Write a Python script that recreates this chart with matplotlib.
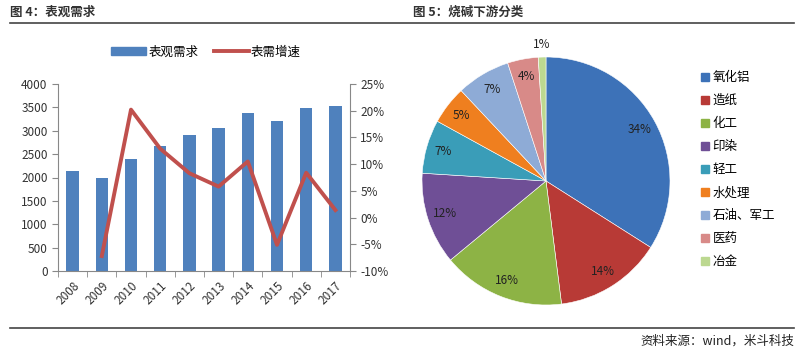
import matplotlib
matplotlib.use("Agg")
import matplotlib.pyplot as plt
from matplotlib.patches import Patch
from matplotlib.lines import Line2D
from matplotlib.ticker import PercentFormatter
import numpy as np

plt.rcParams['font.family'] = ['Noto Sans CJK SC', 'DejaVu Sans']
plt.rcParams['axes.unicode_minus'] = False

# left chart data
years = ['2008', '2009', '2010', '2011', '2012', '2013', '2014', '2015', '2016', '2017']
demand = [2140, 1980, 2390, 2680, 2900, 3060, 3390, 3200, 3480, 3520]
growth_years = years[1:]
growth = [-7.2, 20.2, 12.9, 8.3, 5.8, 10.5, -5.1, 8.4, 1.4]

# right chart data
pie_labels = ['氧化铝', '造纸', '化工', '印染', '轻工', '水处理', '石油、军工', '医药', '冶金']
pie_values = [34, 14, 16, 12, 7, 5, 7, 4, 1]
pie_colors = ['#3d72b8', '#b83a36', '#8db345', '#6f4f96', '#3a9db8', '#ef7f1f',
              '#8eabd6', '#d88a88', '#bcd890']

W, H = 800, 350
fig = plt.figure(figsize=(8, 3.5), dpi=100)

def box(x0, y0, x1, y1):
    return [x0 / W, 1 - y1 / H, (x1 - x0) / W, (y1 - y0) / H]

# titles and rules
fig.text(10 / W, 1 - 12 / H, '图 4：表观需求', fontsize=9, fontweight='bold', color='#333333', va='center')
fig.text(413 / W, 1 - 12 / H, '图 5：烧碱下游分类', fontsize=9, fontweight='bold', color='#333333', va='center')
fig.add_artist(Line2D([10 / W, 794 / W], [1 - 23 / H, 1 - 23 / H], color='#444444', lw=1.2))
fig.add_artist(Line2D([10 / W, 794 / W], [1 - 328 / H, 1 - 328 / H], color='#444444', lw=1.2))
fig.text(794 / W, 1 - 341 / H, '资料来源：wind，米斗科技', fontsize=9, style='italic',
         color='#222222', ha='right', va='center')

# bar + line chart
ax = fig.add_axes(box(58, 84, 350, 271))
x = np.arange(len(years))
ax.bar(x, demand, width=0.42, color='#4f81bd', zorder=2)
ax.set_xlim(-0.5, len(years) - 0.5)
ax.set_ylim(0, 4000)
ax.set_yticks(range(0, 4001, 500))
ax.set_xticks(x)
ax.set_xticklabels(years, rotation=45, ha='right', rotation_mode='anchor')
ax.set_xticks(np.arange(-0.5, len(years), 1), minor=True)
ax.tick_params(axis='x', which='major', length=0, labelsize=8.5, colors='#333333', pad=6)
ax.tick_params(axis='x', which='minor', length=4, color='#888888', direction='out')
ax.tick_params(axis='y', length=4, color='#888888', labelsize=8.5, labelcolor='#333333')
for s in ['top', 'right']:
    ax.spines[s].set_visible(False)
ax.spines['left'].set_color('#888888')
ax.spines['bottom'].set_color('#888888')

ax2 = ax.twinx()
gx = [years.index(y) for y in growth_years]
ax2.plot(gx, growth, color='#c0504d', lw=2.8, zorder=3)
ax2.set_ylim(-10, 25)
ax2.set_yticks(range(-10, 26, 5))
ax2.yaxis.set_major_formatter(PercentFormatter(decimals=0))
ax2.tick_params(axis='y', length=4, color='#888888', labelsize=8.5, labelcolor='#333333')
for s in ['top', 'left', 'bottom']:
    ax2.spines[s].set_visible(False)
ax2.spines['right'].set_color('#888888')

fig.legend(handles=[Patch(color='#4f81bd', label='表观需求'),
                    Line2D([], [], color='#c0504d', lw=2.8, label='表需增速')],
           loc='center', bbox_to_anchor=(206 / W, 1 - 52 / H), ncol=2, frameon=False,
           fontsize=9, handlelength=2.8, handleheight=0.55, columnspacing=1.2, handletextpad=0.2)

# pie chart
cx, cy, r = 546, 181, 124
pax = fig.add_axes(box(cx - r, cy - r, cx + r, cy + r))
wedges, texts, autos = pax.pie(pie_values, colors=pie_colors, startangle=90, counterclock=False,
                               autopct='%d%%', pctdistance=0.86,
                               wedgeprops=dict(edgecolor='white', linewidth=0.4),
                               textprops=dict(fontsize=8.5, color='#222222'))
pax.set_xlim(-1, 1)
pax.set_ylim(-1, 1)
pax.set_aspect('equal')
for w, t, v in zip(wedges, autos, pie_values):
    if v < 2:
        ang = np.deg2rad((w.theta1 + w.theta2) / 2)
        t.set_position((1.1 * np.cos(ang), 1.1 * np.sin(ang)))

fig.legend(handles=[Patch(color=c, label=l) for c, l in zip(pie_colors, pie_labels)],
           loc='upper left', bbox_to_anchor=(690 / W, 1 - 60 / H), frameon=False,
           fontsize=9, handlelength=0.65, handleheight=0.65, handletextpad=0.25, labelspacing=0.8)

fig.savefig('out.png', dpi=100)
